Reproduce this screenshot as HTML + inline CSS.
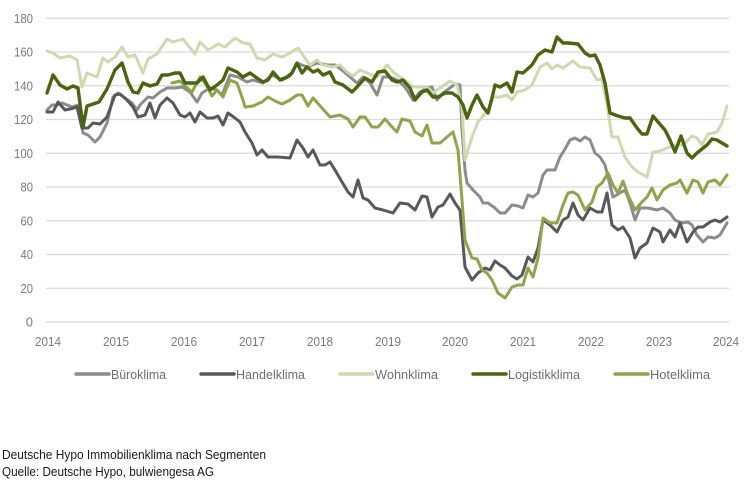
<!DOCTYPE html>
<html><head><meta charset="utf-8"><style>
html,body{margin:0;padding:0;background:#fff;}
svg{display:block;}
</style></head><body>
<svg width="745" height="480" viewBox="0 0 745 480" xmlns="http://www.w3.org/2000/svg">
<g stroke="#dadada" stroke-width="1.2">
<line x1="46" x2="729" y1="18.25" y2="18.25"/>
<line x1="46" x2="729" y1="52" y2="52"/>
<line x1="46" x2="729" y1="85.75" y2="85.75"/>
<line x1="46" x2="729" y1="119.5" y2="119.5"/>
<line x1="46" x2="729" y1="153.25" y2="153.25"/>
<line x1="46" x2="729" y1="187" y2="187"/>
<line x1="46" x2="729" y1="220.75" y2="220.75"/>
<line x1="46" x2="729" y1="254.5" y2="254.5"/>
<line x1="46" x2="729" y1="288.25" y2="288.25"/>
<line x1="46" x2="729" y1="322" y2="322"/>
</g>
<g font-family="Liberation Sans Narrow, Liberation Sans, sans-serif" font-size="13" fill="#7a7a7a" text-anchor="end">
<text x="33" y="23" textLength="19" lengthAdjust="spacingAndGlyphs">180</text>
<text x="33" y="56.5" textLength="19" lengthAdjust="spacingAndGlyphs">160</text>
<text x="33" y="90.5" textLength="19" lengthAdjust="spacingAndGlyphs">140</text>
<text x="33" y="124" textLength="19" lengthAdjust="spacingAndGlyphs">120</text>
<text x="33" y="158" textLength="19" lengthAdjust="spacingAndGlyphs">100</text>
<text x="33" y="191.5" textLength="12.5" lengthAdjust="spacingAndGlyphs">80</text>
<text x="33" y="225.5" textLength="12.5" lengthAdjust="spacingAndGlyphs">60</text>
<text x="33" y="259" textLength="12.5" lengthAdjust="spacingAndGlyphs">40</text>
<text x="33" y="293" textLength="12.5" lengthAdjust="spacingAndGlyphs">20</text>
<text x="33" y="326.5">0</text>
</g>
<g font-family="Liberation Sans Narrow, Liberation Sans, sans-serif" font-size="13" fill="#7a7a7a" text-anchor="middle">
<text x="48" y="346" textLength="26" lengthAdjust="spacingAndGlyphs">2014</text>
<text x="116" y="346" textLength="26" lengthAdjust="spacingAndGlyphs">2015</text>
<text x="184" y="346" textLength="26" lengthAdjust="spacingAndGlyphs">2016</text>
<text x="252" y="346" textLength="26" lengthAdjust="spacingAndGlyphs">2017</text>
<text x="320" y="346" textLength="26" lengthAdjust="spacingAndGlyphs">2018</text>
<text x="388" y="346" textLength="26" lengthAdjust="spacingAndGlyphs">2019</text>
<text x="455" y="346" textLength="26" lengthAdjust="spacingAndGlyphs">2020</text>
<text x="523" y="346" textLength="26" lengthAdjust="spacingAndGlyphs">2021</text>
<text x="591" y="346" textLength="26" lengthAdjust="spacingAndGlyphs">2022</text>
<text x="659" y="346" textLength="26" lengthAdjust="spacingAndGlyphs">2023</text>
<text x="726" y="346" textLength="26" lengthAdjust="spacingAndGlyphs">2024</text>
</g>
<g fill="none" stroke-linejoin="round" stroke-linecap="round">
<polyline stroke="#8c8c8c" stroke-width="3" points="47,110 52,105 57,105 62,103 67,105 72,107 78,105 83,133 88,135 95,142 100,137 107,123 113,97 118,93 125,98 132,103 137,110 140,105 148,97 153,98 160,92 167,88 175,88 182,87 190,92 197,102 202,93 210,88 217,90 222,95 230,75 238,77 247,82 253,80 263,83 272,75 282,80 290,76 297,63 307,67 317,63 327,65 335,65 342,70 350,77 357,83 363,77 370,83 377,95 383,77 390,77 397,80 403,85 407,90 413,100 420,92 427,88 432,87 437,100 443,93 450,88 455,84 460,85 462,130 465,170 467,183 473,190 480,197 483,203 488,203 495,208 500,213 505,213 512,205 518,206 523,208 528,195 533,197 538,193 543,175 547,170 555,170 560,157 565,149 570,140 575,138 580,141 585,137 590,140 595,153 600,157 605,165 608,177 613,197 620,193 625,190 630,203 635,220 640,208 648,208 657,210 663,208 670,213 675,220 682,223 688,222 692,225 697,235 703,242 708,237 715,238 720,235 727,223"/>
<polyline stroke="#58585a" stroke-width="3" points="47,112 53,112 58,102 65,110 70,109 77,107 82,128 88,128 93,123 100,124 107,117 115,95 120,94 127,100 133,107 138,117 145,115 150,103 155,118 160,105 167,98 173,103 180,115 185,117 190,113 195,122 200,112 207,118 213,118 218,116 223,125 228,113 235,118 240,122 245,132 252,143 257,155 262,150 268,157 278,157 290,158 297,140 303,148 308,157 313,150 320,165 325,165 330,162 335,170 342,182 348,192 353,197 358,180 363,198 368,200 375,208 383,210 393,213 400,203 408,204 415,210 422,196 427,197 432,217 438,207 443,205 450,194 455,203 460,210 465,267 472,280 478,273 485,268 490,270 495,261 500,265 505,268 512,276 517,279 522,275 528,257 533,262 538,248 543,220 550,225 557,232 563,220 568,217 573,203 578,215 583,220 590,208 597,212 602,212 607,193 612,225 618,230 623,227 630,238 635,258 640,248 647,243 653,228 660,232 663,242 670,230 675,237 680,223 687,242 693,232 698,227 703,227 710,222 715,220 720,222 727,217"/>
<polyline stroke="#cfd9b0" stroke-width="3" points="47,51 53,53 60,58 70,56 77,60 82,87 87,73 97,77 103,58 108,62 115,57 122,47 128,57 135,55 143,73 148,59 157,54 167,39 173,42 183,39 195,54 200,42 208,50 218,44 225,47 235,38 243,43 250,44 257,58 265,60 273,54 282,57 290,53 298,48 305,58 310,65 317,60 323,65 332,67 340,65 347,72 353,76 360,70 367,73 377,77 387,65 393,72 400,77 407,82 413,87 418,87 427,87 433,93 440,88 450,81 457,85 462,107 465,160 472,137 478,122 488,110 493,97 500,97 507,95 512,100 517,92 525,90 532,85 540,67 547,63 552,69 557,65 563,68 573,61 580,67 590,68 597,80 602,79 607,105 612,137 618,137 625,157 632,167 638,172 647,177 653,152 660,151 667,148 675,145 683,145 692,136 697,138 702,145 708,134 717,132 722,123 727,106"/>
<polyline stroke="#8fa54b" stroke-width="3" points="172,83 180,81 185,86 192,92 200,77 205,83 212,96 217,90 223,97 230,80 237,83 243,100 245,107 253,106 262,102 268,97 275,101 282,104 290,100 297,95 302,95 308,106 313,98 322,108 330,117 340,115 348,119 353,127 360,117 365,117 372,127 378,127 385,119 393,128 397,132 402,119 410,121 415,132 422,136 427,125 432,143 440,143 447,137 453,132 458,150 462,200 465,240 472,258 477,259 482,270 487,273 492,280 498,293 505,298 512,287 518,285 523,285 528,268 533,277 538,258 543,218 550,223 557,223 563,205 568,193 573,192 578,195 585,210 592,202 597,187 602,183 608,173 613,185 618,193 623,181 628,195 635,210 642,202 647,197 652,188 657,200 663,190 670,185 677,183 680,180 687,193 693,180 698,182 703,193 708,182 715,180 720,185 727,175"/>
<polyline stroke="#4b6410" stroke-width="3.4" points="47,93 53,75 60,85 67,89 73,86 78,88 83,127 87,106 93,104 99,102 107,89 115,70 122,63 128,82 133,92 138,93 143,83 150,86 157,84 162,75 168,75 175,73 180,73 185,83 192,83 197,83 203,77 210,90 217,85 223,80 228,68 237,72 243,77 250,73 257,78 263,82 268,80 273,72 280,80 287,77 292,73 297,63 302,73 307,67 313,72 318,70 323,75 330,72 335,82 343,85 352,92 357,87 365,78 372,82 378,72 385,71 392,80 397,82 403,80 410,88 415,100 422,92 427,90 433,97 438,97 445,93 452,93 458,97 463,105 467,118 472,105 477,95 483,107 488,113 492,98 495,85 500,87 507,83 512,92 517,72 523,73 532,65 538,55 545,50 552,52 557,37 563,43 568,43 578,44 585,53 590,56 595,55 600,65 605,83 610,113 618,116 625,118 630,118 637,128 642,134 647,134 653,116 658,122 665,130 670,140 675,152 681,136 687,153 692,158 697,153 702,149 707,145 712,139 717,140 722,143 727,146"/>
</g>
<g stroke-width="3.4" stroke-linecap="round">
<line x1="76" x2="109" y1="374" y2="374" stroke="#8c8c8c"/>
<line x1="201" x2="234" y1="374" y2="374" stroke="#58585a"/>
<line x1="340" x2="373" y1="374" y2="374" stroke="#cfd9b0"/>
<line x1="473" x2="506" y1="374" y2="374" stroke="#4b6410"/>
<line x1="615" x2="648" y1="374" y2="374" stroke="#8fa54b"/>
</g>
<g font-family="Liberation Sans Narrow, Liberation Sans, sans-serif" font-size="13" fill="#6e6e6e">
<text x="111" y="379" textLength="55" lengthAdjust="spacingAndGlyphs">Büroklima</text>
<text x="236" y="379" textLength="69" lengthAdjust="spacingAndGlyphs">Handelklima</text>
<text x="375" y="379" textLength="63" lengthAdjust="spacingAndGlyphs">Wohnklima</text>
<text x="508" y="379" textLength="72" lengthAdjust="spacingAndGlyphs">Logistikklima</text>
<text x="650" y="379" textLength="60" lengthAdjust="spacingAndGlyphs">Hotelklima</text>
</g>
<g font-family="Liberation Sans Narrow, Liberation Sans, sans-serif" font-size="12.5" fill="#1a1a1a">
<text x="2" y="459" textLength="264" lengthAdjust="spacingAndGlyphs">Deutsche Hypo Immobilienklima nach Segmenten</text>
<text x="2" y="476" textLength="212" lengthAdjust="spacingAndGlyphs">Quelle: Deutsche Hypo, bulwiengesa AG</text>
</g>
</svg>
</body></html>
